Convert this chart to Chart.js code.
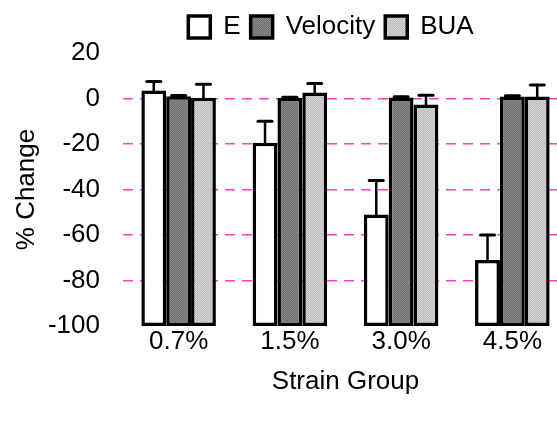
<!DOCTYPE html>
<html>
<head>
<meta charset="utf-8">
<script src="https://cdn.jsdelivr.net/npm/chart.js@4.4.1/dist/chart.umd.min.js"></script>
<style>
  html, body { margin: 0; padding: 0; background: #fff; overflow: hidden; }
  #wrap { width: 557px; height: 421px; overflow: hidden; }
</style>
</head>
<body>
<div id="wrap"><canvas id="chart" width="568" height="421"></canvas></div>
<script>
const categories = ['0.7%', '1.5%', '3.0%', '4.5%'];
const eValues = [3.5, -19.5, -51, -71];
const eErrors = [4, 9.5, 15, 11];
const velocityValues = [1, 0.2, 0.4, 0.9];
const velocityErrors = [0.3, 0.4, 0.4, 0.3];
const buaValues = [0.3, 2.6, -2.6, 0.9];
const buaErrors = [6, 4, 4, 5];
const yTicks = [20, 0, -20, -40, -60, -80, -100];
const gridValues = [0, -20, -40, -60, -80];
const baseValue = -100;

const FONT = "'Liberation Sans', Arial, sans-serif";

// small dither patterns to get the printed grey look
function makePattern(c1, c2) {
    const p = document.createElement('canvas');
    p.width = 2; p.height = 2;
    const g = p.getContext('2d');
    g.fillStyle = c1; g.fillRect(0, 0, 2, 2);
    g.fillStyle = c2; g.fillRect(0, 0, 1, 1); g.fillRect(1, 1, 1, 1);
    return document.getElementById('chart').getContext('2d').createPattern(p, 'repeat');
}
const velocityFill = makePattern('#707070', '#878787');
const buaFill = makePattern('#bcbcbc', '#d6d6d6');

function floating(values) {
    return values.map(v => [baseValue, v]);
}

const errorBars = {
    id: 'errorBars',
    afterDatasetsDraw(chart) {
        const ctx = chart.ctx;
        const y = chart.scales.y;
        ctx.save();
        ctx.strokeStyle = '#000';
        ctx.lineCap = 'round';
        chart.data.datasets.forEach((ds, i) => {
            const meta = chart.getDatasetMeta(i);
            meta.data.forEach((bar, j) => {
                const err = ds.errors[j];
                if (!err) return;
                const top = y.getPixelForValue(ds.values[j]);
                const tip = y.getPixelForValue(ds.values[j] + err);
                ctx.lineWidth = 2.5;
                ctx.beginPath();
                ctx.moveTo(bar.x, top);
                ctx.lineTo(bar.x, tip);
                ctx.stroke();
                ctx.lineWidth = 3;
                ctx.beginPath();
                ctx.moveTo(bar.x - 7, tip);
                ctx.lineTo(bar.x + 7, tip);
                ctx.stroke();
            });
        });
        ctx.restore();
    }
};

// push the legend to where the original sits
const legendShift = {
    id: 'legendShift',
    afterLayout(chart) {
        const lg = chart.legend;
        lg.left += 44;
        lg.right += 44;
        lg.top -= 3;
        lg.bottom -= 3;
    }
};

new Chart(document.getElementById('chart'), {
    type: 'bar',
    data: {
        labels: categories,
        datasets: [
            { label: 'E', data: floating(eValues), values: eValues, errors: eErrors,
              backgroundColor: '#ffffff' },
            { label: 'Velocity', data: floating(velocityValues), values: velocityValues, errors: velocityErrors,
              backgroundColor: velocityFill },
            { label: 'BUA', data: floating(buaValues), values: buaValues, errors: buaErrors,
              backgroundColor: buaFill }
        ]
    },
    options: {
        responsive: false,
        animation: false,
        layout: { padding: { left: 6, right: 0, top: 7, bottom: 24 } },
        datasets: {
            bar: {
                borderColor: '#000',
                borderWidth: 3.5,
                borderSkipped: false,
                categoryPercentage: 0.67,
                barPercentage: 1.0
            }
        },
        plugins: {
            tooltip: { enabled: false },
            legend: {
                position: 'top',
                labels: {
                    boxWidth: 22,
                    boxHeight: 22,
                    padding: 10,
                    color: '#000',
                    font: { family: FONT, size: 26 }
                }
            }
        },
        scales: {
            x: {
                afterFit(scale) { scale.height = 71; },
                grid: { display: false },
                border: { display: false },
                ticks: { color: '#000', padding: -8, font: { family: FONT, size: 26 } },
                title: { display: true, text: 'Strain Group', color: '#000', padding: { top: 4, bottom: 0 },
                         font: { family: FONT, size: 26 } }
            },
            y: {
                min: -100,
                max: 20,
                afterBuildTicks(scale) {
                    scale.ticks = yTicks.map(v => ({ value: v }));
                },
                afterFit(scale) { scale.width = 117; },
                grid: {
                    drawTicks: false,
                    lineWidth: 1.5,
                    color: c => gridValues.includes(c.tick && c.tick.value) ? '#ff3ccc' : 'rgba(0,0,0,0)'
                },
                border: { display: false, dash: [10, 7] },
                ticks: { color: '#000', padding: 23, font: { family: FONT, size: 26 } },
                title: { display: true, text: '% Change', color: '#000', padding: 5,
                         font: { family: FONT, size: 26 } }
            }
        }
    },
    plugins: [errorBars, legendShift]
});
</script>
</body>
</html>
